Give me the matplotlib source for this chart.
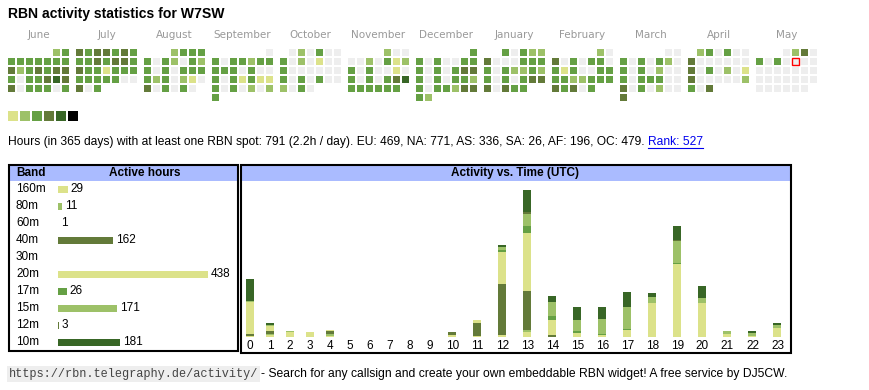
import calendar
import numpy as np
import matplotlib
matplotlib.use("Agg")
import matplotlib.pyplot as plt
import matplotlib.transforms as mtransforms
from matplotlib.patches import Rectangle
from matplotlib.lines import Line2D

# ---- data ----
callsign = "W7SW"
months = ['June', 'July', 'August', 'September', 'October', 'November',
          'December', 'January', 'February', 'March', 'April', 'May']
month_years = [2024, 2024, 2024, 2024, 2024, 2024, 2024, 2025, 2025, 2025, 2025, 2025]
month_nums = [6, 7, 8, 9, 10, 11, 12, 1, 2, 3, 4, 5]
# activity level per day (0 = none ... 6 = max), one string per month
day_levels = [
    "23" "3333333" "4234344" "3033454" "4033303",
    "4344343" "3343443" "4331333" "3333300" "403",
    "2333" "3032032" "3030333" "3230210" "403030",
    "0" "3033233" "3330300" "3031311" "3030202" "3",
    "020300" "3020100" "3000000" "3030300" "2030",
    "200" "0020312" "3030010" "3030345" "333333",
    "3" "3030033" "3030344" "3030332" "3033244" "32",
    "30322" "4000333" "3032232" "3030344" "40433",
    "20" "4030330" "3130033" "3322333" "43403",
    "00" "3030320" "3030200" "3033300" "4030200" "4",
    "230300" "4000000" "4030201" "4000002" "304",
    "0240" "3030000" "0000000" "0000000" "000000",
]
today = (2025, 5, 9)

level_colors = ['#eeeeee', '#dce28a', '#9dc168', '#65a044', '#637a39', '#386626', '#000000']

total_hours = 791
days = 365
continents = ['EU', 'NA', 'AS', 'SA', 'AF', 'OC']
continent_hours = [469, 771, 336, 26, 196, 479]
rank = 527

bands = ['160m', '80m', '60m', '40m', '30m', '20m', '17m', '15m', '12m', '10m']
band_hours = [29, 11, 1, 162, 0, 438, 26, 171, 3, 181]
band_colors = ['#dce28a', '#9dc168', '#65a044', '#637a39', '#386626',
               '#dce28a', '#65a044', '#9dc168', '#637a39', '#386626']

hours_utc = list(range(24))
# active hours per UTC hour, per band (same order as bands)
hourly = {
    '160m': [1, 3, 6, 6, 1, 0, 0, 0, 0, 0, 3, 1, 2, 6, 0, 0, 0, 0, 0, 0, 0, 0, 0, 0],
    '80m':  [0, 1, 2, 1, 3, 0, 0, 0, 0, 0, 0, 0, 0, 4, 0, 0, 0, 0, 0, 0, 0, 0, 0, 0],
    '60m':  [0, 0, 0, 0, 0, 0, 0, 0, 0, 0, 0, 0, 1, 0, 0, 0, 0, 0, 0, 0, 0, 0, 0, 0],
    '40m':  [3, 4, 0, 0, 4, 0, 0, 0, 0, 0, 4, 19, 71, 54, 3, 0, 0, 0, 0, 0, 0, 0, 0, 0],
    '30m':  [0] * 24,
    '20m':  [45, 7, 0, 0, 1, 0, 0, 0, 0, 0, 0, 4, 46, 83, 21, 5, 3, 9, 47, 103, 47, 4, 1, 12],
    '17m':  [0, 0, 0, 0, 0, 0, 0, 0, 0, 0, 0, 0, 3, 10, 5, 3, 1, 2, 1, 1, 0, 0, 0, 0],
    '15m':  [2, 1, 0, 0, 0, 0, 0, 0, 0, 0, 0, 0, 4, 17, 20, 16, 21, 31, 8, 31, 8, 4, 4, 4],
    '12m':  [0, 0, 0, 0, 0, 0, 0, 0, 0, 0, 0, 0, 0, 2, 0, 0, 0, 0, 0, 1, 0, 0, 0, 0],
    '10m':  [30, 3, 0, 0, 0, 0, 0, 0, 0, 0, 0, 0, 3, 31, 8, 18, 17, 21, 6, 20, 17, 0, 3, 4],
}

# ---- figure in pixel terms ----
W, H = 870, 390
fig = plt.figure(figsize=(W / 100, H / 100), dpi=100)
SANS = 'Liberation Sans'
HEAD_BLUE = '#aabbff'


def fx(px):
    return px / W


def fy(py):
    return 1 - py / H


def box(x0, y0, x1, y1):
    return [fx(x0), fy(y1), fx(x1) - fx(x0), fy(y0) - fy(y1)]


fig.text(fx(8), fy(14), "RBN activity statistics for " + callsign, fontsize=10.1,
         fontweight='bold', family=SANS, va='center')

# calendar heatmap
ax_cal = fig.add_axes(box(2.5, 43.5, 830.5, 106.5))
month_step = 68 / 9
xs, ys, cs = [], [], []
today_xy = None
for m, (yr, mn, lv) in enumerate(zip(month_years, month_nums, day_levels)):
    first_wd, ndays = calendar.monthrange(yr, mn)
    for d in range(ndays):
        k = first_wd + d
        xs.append(m * month_step + k % 7)
        ys.append(k // 7)
        cs.append(level_colors[int(lv[d])])
        if (yr, mn, d + 1) == today:
            today_xy = (xs[-1], ys[-1])
    ax_cal.text(m * month_step + 3, -1.95, months[m], ha='center', va='center',
                color='#999999', fontsize=7.5, family='DejaVu Sans')
cell = 7 / 9
ax_cal.bar(xs, cell, width=cell, bottom=np.array(ys) - cell / 2, color=cs)
if today_xy is not None:
    ax_cal.bar([today_xy[0]], cell + 0.1, width=cell + 0.1, bottom=today_xy[1] - cell / 2 - 0.05,
               facecolor='none', edgecolor='#ff0000', linewidth=1.0)
ax_cal.set_xlim(-1, 91)
ax_cal.set_ylim(6, -1)
ax_cal.axis('off')

# level legend
ax_leg = fig.add_axes(box(8, 111, 78, 121))
ax_leg.bar(np.arange(6) * 12 + 5, 10, width=10, color=level_colors[1:])
ax_leg.set_xlim(0, 70)
ax_leg.set_ylim(0, 10)
ax_leg.axis('off')

# summary line
cont_txt = ", ".join("{}: {}".format(c, v) for c, v in zip(continents, continent_hours))
summary = "Hours (in {} days) with at least one RBN spot: {} ({:.1f}h / day). {}. ".format(
    days, total_hours, total_hours / days, cont_txt)
t_sum = fig.text(fx(8), fy(142), summary, fontsize=8.65, family=SANS, va='center')
fig.canvas.draw()
bb = t_sum.get_window_extent()
t_rank = fig.text(bb.x1 / W, fy(142), "Rank: {}".format(rank), fontsize=8.65, family=SANS,
                  va='center', color='#0000ee')
fig.canvas.draw()
bb2 = t_rank.get_window_extent()
fig.add_artist(Line2D([bb2.x0 / W, bb2.x1 / W], [(bb2.y0 + 0.5) / H] * 2,
                      color='#0000ee', linewidth=0.8))

# table frames and headers
fig.patches.append(Rectangle((fx(10), fy(181)), fx(237) - fx(10), fy(166) - fy(181),
                             transform=fig.transFigure, facecolor=HEAD_BLUE, edgecolor='none'))
fig.patches.append(Rectangle((fx(242), fy(181)), fx(790) - fx(242), fy(165) - fy(181),
                             transform=fig.transFigure, facecolor=HEAD_BLUE, edgecolor='none'))
fig.patches.append(Rectangle((fx(9), fy(351)), fx(238) - fx(9), fy(165) - fy(351),
                             transform=fig.transFigure, facecolor='none', edgecolor='black',
                             linewidth=1.5))
fig.patches.append(Rectangle((fx(241), fy(353)), fx(791) - fx(241), fy(165) - fy(353),
                             transform=fig.transFigure, facecolor='none', edgecolor='black',
                             linewidth=1.5))
fig.text(fx(16), fy(173), "Band", fontsize=8.5, fontweight='bold', family=SANS, va='center')
fig.text(fx(145), fy(173), "Active hours", fontsize=8.5, fontweight='bold', family=SANS,
         va='center', ha='center')
fig.text(fx(515), fy(173), "Activity vs. Time (UTC)", fontsize=8.5, fontweight='bold',
         family=SANS, va='center', ha='center')

# band table bars
ax_band = fig.add_axes(box(58, 180.8, 238, 350.8))
hpx = 438 / 150  # hours per pixel
ax_band.barh(range(len(bands)), band_hours, height=7 / 17, color=band_colors)
lbl_tr = mtransforms.blended_transform_factory(fig.transFigure, ax_band.transData)
for i, (b, v) in enumerate(zip(bands, band_hours)):
    ax_band.text(fx(16), i, b, transform=lbl_tr, va='center', fontsize=8.5, family=SANS)
    if v > 0:
        ax_band.text(v + 3 * hpx, i, str(v), va='center', fontsize=8.5, family=SANS)
ax_band.set_xlim(0, 180 * hpx)
ax_band.set_ylim(len(bands) - 0.5, -0.5)
ax_band.axis('off')

# activity vs time stacked bars
col_w = np.array([15 + 5 * len(str(h)) for h in hours_utc])
centers = np.cumsum(col_w) - col_w / 2
ax_act = fig.add_axes(box(240, 181, 792, 336.7))
bottom = np.zeros(24)
for b, c in zip(bands, band_colors):
    vals = np.array(hourly[b])
    ax_act.bar(centers, vals, width=8, bottom=bottom, color=c)
    bottom += vals
ax_act.set_xlim(0, col_w.sum() + 2)
ax_act.set_ylim(0, 220)
ax_act.set_xticks(centers)
ax_act.set_xticklabels([str(h) for h in hours_utc], fontsize=8.5, family=SANS)
ax_act.tick_params(axis='x', length=0, pad=2.5)
ax_act.set_yticks([])
for s in ax_act.spines.values():
    s.set_visible(False)
ax_act.patch.set_alpha(0)

# footer
url = "https://rbn.telegraphy.de/activity/"
t_url = fig.text(fx(9), fy(374), url, fontsize=8.6, family='Liberation Mono', va='center',
                 color='#444444', bbox=dict(facecolor='#eeeeee', edgecolor='none', pad=1.2))
fig.canvas.draw()
bb3 = t_url.get_window_extent()
fig.text((bb3.x1 + 3) / W, fy(374),
         "- Search for any callsign and create your own embeddable RBN widget! A free service by DJ5CW.",
         fontsize=8.7, family=SANS, va='center')

fig.savefig("out.png", dpi=100)
